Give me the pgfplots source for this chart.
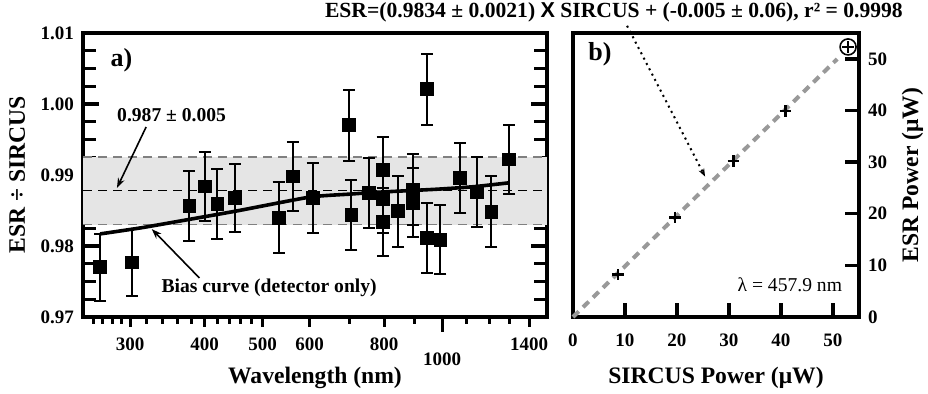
\documentclass[border=0pt]{standalone}
\usepackage{pgfplots}
\pgfplotsset{compat=1.18}
\usepackage{pgfplotstable}
\usetikzlibrary{arrows.meta}
\usepackage{fontspec}
\setmainfont{Liberation Serif}
\setsansfont{Liberation Sans}
\pgfplotsset{/pgf/number format/assume math mode=true}
\pgfplotstableread{
l v e
267 0.9770 0.0047
302 0.9777 0.0047
377 0.9856 0.0049
400 0.9884 0.0049
420 0.9859 0.0049
450 0.9868 0.0048
532 0.9840 0.0050
562 0.9898 0.0049
607 0.9868 0.0049
699 0.9970 0.0050
705 0.9844 0.0049
755 0.9875 0.0049
795 0.9907 0.0047
795 0.9866 0.0047
795 0.9834 0.0048
844 0.9849 0.0050
894 0.9879 0.0050
894 0.9861 0.0049
944 1.0021 0.0050
944 0.9811 0.0049
994 0.9809 0.0049
1073 0.9896 0.0049
1144 0.9876 0.0049
1210 0.9848 0.0050
1296 0.9922 0.0049
}\ratio
\pgfplotstableread{
l v
267 0.9817
315 0.9826
392 0.9840
457 0.9850
601 0.9869
699 0.9873
755 0.9875
812 0.98765
982 0.9880
1130 0.98835
1296 0.9889
}\bias
\pgfplotstableread{
s p
8.65 8.2
19.6 19.3
30.8 30.2
40.8 39.9
52.9 52.3
}\power
\newcommand{\tfont}{\fontsize{9.5}{10}\selectfont\bfseries}
\newcommand{\lfont}{\fontsize{11.8}{13}\selectfont\bfseries}
\begin{document}
\begin{tikzpicture}
\path[use as bounding box] (-41.5pt,-38.5pt) rectangle (422.5pt,158.5pt);
% ---------- panel a ----------
\begin{axis}[at={(0,0)}, anchor=south west, scale only axis,
  width=232pt, height=142pt,
  xmode=log, xmin=250, xmax=1500, ymin=0.97, ymax=1.01,
  xtick=\empty, minor xtick={},
  ytick={0.97,0.98,0.99,1.00,1.01}, yticklabels={0.97,0.98,0.99,1.00,1.01},
  minor ytick={0.9725,0.975,0.9775,0.9825,0.985,0.9875,0.9925,0.995,0.9975,1.0025,1.005,1.0075},
  ytick pos=both, yticklabel pos=left, tick align=inside,
  major tick length=8pt, minor tick length=6.5pt,
  tick style={black, line width=1.6pt},
  axis line style={line width=2pt},
  yticklabel style={font=\tfont, xshift=-1pt},
  ylabel={ESR ÷ SIRCUS},
  ylabel style={font=\lfont, at={(axis description cs:-0.142,0.5)}, anchor=center},
  clip=false]
\addplot[draw=none, fill=black!10] coordinates {(250,0.9830) (1500,0.9830) (1500,0.9925) (250,0.9925)} -- cycle;
\addplot[black!50, line width=0.8pt, dash pattern=on 4.5pt off 3pt] coordinates {(250,0.9830) (1500,0.9830)};
\addplot[black!50, line width=0.8pt, dash pattern=on 4.5pt off 3pt] coordinates {(250,0.9925) (1500,0.9925)};
\addplot[black, line width=0.7pt, dash pattern=on 4.5pt off 3pt] coordinates {(250,0.9878) (1500,0.9878)};
\addplot[black, line width=1.8pt, smooth, tension=0.3] table[x=l, y=v] {\bias};
\addplot[only marks, black, mark=square*, mark size=3.2pt,
  error bars/.cd, y dir=both, y explicit,
  error bar style={line width=1pt},
  error mark options={rotate=90, mark size=3pt, line width=1pt}]
  table[x=l, y=v, y error=e] {\ratio};
\node[font=\fontsize{13}{14}\selectfont\bfseries] at (axis cs:290,1.0062) {a)};
\node[font=\fontsize{9.8}{11}\selectfont\bfseries] at (axis cs:352,0.99845) {0.987 ± 0.005};
\draw[line width=0.8pt, -{Stealth[length=5pt,width=3.5pt]}] (axis cs:319,0.99676) -- (axis cs:285,0.98817);
\node[font=\fontsize{9.8}{11}\selectfont\bfseries] at (axis cs:513,0.97408) {Bias curve (detector only)};
\draw[line width=0.8pt, -{Stealth[length=5pt,width=3.5pt]}] (axis cs:392,0.97549) -- (axis cs:326,0.98239);
\end{axis}
% overlay for bottom x ticks of panel a
\begin{axis}[at={(0,0)}, anchor=south west, scale only axis,
  width=232pt, height=142pt,
  xmode=log, xmin=250, xmax=1500, ymin=0, ymax=1,
  hide y axis, axis x line*=bottom,
  axis line style={line width=2pt},
  xtick={300,400,500,600,800,1400}, xticklabels={300,400,500,600,800,1400},
  minor xtick={260,270,280,290,320,340,360,380,420,440,460,480,700,900,1100,1200,1300},
  tick align=outside, major tick length=5pt, minor tick length=3.5pt,
  tick style={black, line width=1.5pt},
  xticklabel style={font=\tfont, yshift=-2pt},
  extra x ticks={1000}, extra x tick labels={{\tfont 1000}},
  extra x tick style={major tick length=7.5pt, xticklabel style={yshift=-5pt}},
  xlabel={Wavelength (nm)},
  xlabel style={font=\lfont, at={(axis description cs:0.5,-0.215)}, anchor=center}]
\addplot[draw=none] coordinates {(300,0.5)};
\end{axis}
% ---------- panel b ----------
\begin{axis}[at={(245pt,0)}, anchor=south west, scale only axis,
  width=143pt, height=142pt,
  xmin=0, xmax=55, ymin=0, ymax=55,
  xtick={0,10,20,30,40,50}, ytick={0,10,20,30,40,50},
  xtick pos=left, ytick pos=right, yticklabel pos=right,
  tick align=inside, major tick length=7pt,
  tick style={black, line width=1.7pt},
  axis line style={line width=2pt},
  xticklabel style={font=\tfont, yshift=-5pt},
  yticklabel style={font=\tfont, xshift=1pt},
  xlabel={SIRCUS Power (μW)}, ylabel={ESR Power (μW)},
  xlabel style={font=\lfont, at={(axis description cs:0.5,-0.215)}, anchor=center},
  ylabel style={font=\lfont, at={(axis description cs:1.187,0.5)}, anchor=center},
  clip=false]
\addplot[black!40, line width=2pt, dash pattern=on 4pt off 3pt] coordinates {(0,0) (50.8,49.95)};
\addplot[only marks, black, mark=+, mark size=2.8pt, mark options={line width=1.4pt}] table[x=s, y=p] {\power};
\addplot[only marks, black, mark=o, mark size=4pt, mark options={line width=0.8pt}] coordinates {(52.9,52.3)};
\node[font=\fontsize{13}{14}\selectfont\bfseries] at (axis cs:5.2,50.8) {b)};
\node[font=\fontsize{9.8}{11}\selectfont] at (axis cs:41.7,6.2) {λ = 457.9 nm};
\draw[line width=1pt, dotted, -{Stealth[length=4pt,width=3pt]}] (axis cs:10.4,56.4) -- (axis cs:25.4,27.2);
\node[font=\fontsize{10.8}{11}\selectfont\bfseries, anchor=east, inner sep=0pt] at (axis cs:63.5,59.1) {ESR=(0.9834 ± 0.0021) {\sffamily X} SIRCUS + (-0.005 ± 0.06), r² = 0.9998};
\end{axis}
\end{tikzpicture}
\end{document}
